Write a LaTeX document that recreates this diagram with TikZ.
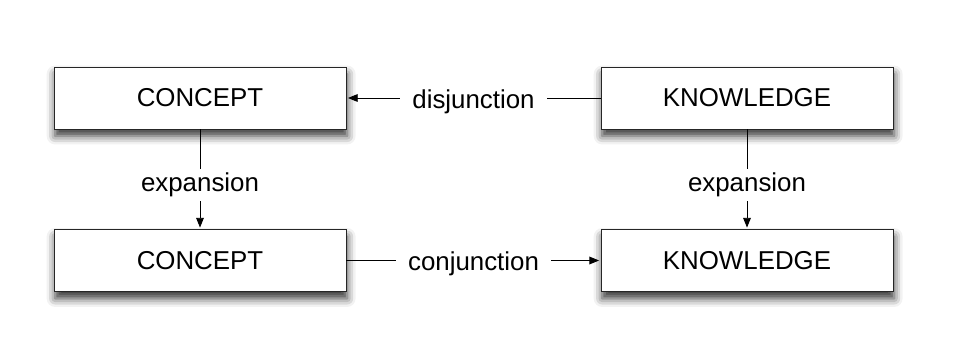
\documentclass[tikz,border=0pt]{standalone}
\usepackage{fontspec}
\setmainfont{Liberation Sans}
\usetikzlibrary{arrows.meta, shadows.blur}

\begin{document}
\begin{tikzpicture}[
    termbox/.style={draw=black!85, line width=0.7pt, fill=white,
        minimum width=7.3cm, minimum height=1.55cm, inner sep=0pt,
        blur shadow={shadow xshift=0.8pt, shadow yshift=-5pt,
            shadow blur radius=6pt, shadow opacity=80}},
    linklabel/.style={fill=white, inner xsep=8.5pt, inner ysep=3pt},
    link/.style={line width=0.7pt, shorten >=1pt,
        -{Triangle[length=7pt, width=5.5pt]}},
    font=\fontsize{18.4}{22}\selectfont
]
    \useasboundingbox (0,0) rectangle (24,8.775);

    % Define the centres of the boxes
    \coordinate (CT) at (5.0,6.325);
    \coordinate (KT) at (18.675,6.325);
    \coordinate (CB) at (5.0,2.2625);
    \coordinate (KB) at (18.675,2.2625);

    % Draw the boxes
    \node[termbox] (concepttop) at (CT) {CONCEPT};
    \node[termbox] (knowtop) at (KT) {KNOWLEDGE};
    \node[termbox] (conceptbot) at (CB) {CONCEPT};
    \node[termbox] (knowbot) at (KB) {KNOWLEDGE};

    % Draw the links with their labels
    \draw[link] (knowtop) -- node[linklabel, yshift=-2.5pt] {disjunction} (concepttop);
    \draw[link] (conceptbot) -- node[linklabel, yshift=-2.5pt] {conjunction} (knowbot);
    \draw[link] (concepttop) -- node[linklabel, pos=0.56] {expansion} (conceptbot);
    \draw[link] (knowtop) -- node[linklabel, pos=0.56] {expansion} (knowbot);
\end{tikzpicture}
\end{document}
